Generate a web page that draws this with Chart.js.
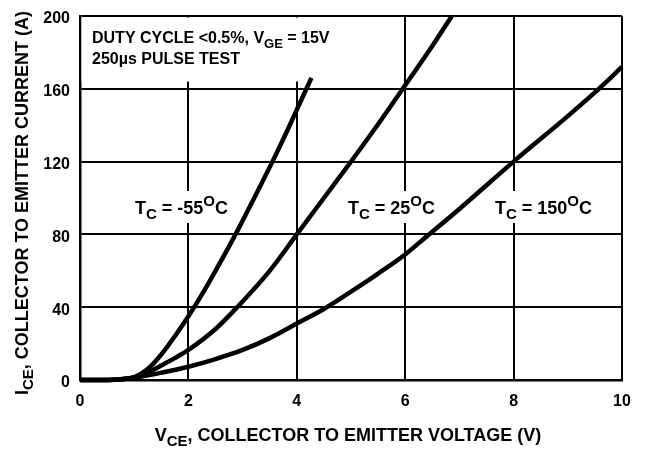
<!DOCTYPE html>
<html>
<head>
<meta charset="utf-8">
<script src="https://cdn.jsdelivr.net/npm/chart.js@4/dist/chart.umd.min.js"></script>
<style>
  html, body { margin: 0; padding: 0; background: #fff; }
  #c { display: block; }
</style>
</head>
<body>
<canvas id="c" width="647" height="450"></canvas>
<script>
// ---- data ----
const xTicks = [0, 2, 4, 6, 8, 10];
const yTicks = [0, 40, 80, 120, 160, 200];

const vM55 = [0, 0.5, 0.8, 1.0, 1.25, 1.5, 1.75, 2.0, 2.25, 2.5, 2.87, 3.0, 3.35, 3.6, 3.87, 4.0, 4.27];
const iM55 = [0, 0, 0.5, 1.5, 6, 14, 24, 35, 47, 60, 80, 87.5, 108, 123, 140, 148.5, 166];

const v25 = [0, 0.5, 0.8, 1.0, 1.25, 1.5, 1.75, 2.0, 2.5, 2.9, 3.5, 4.0, 4.5, 5.0, 5.5, 6.0, 6.5, 6.86];
const i25 = [0, 0, 0.5, 1.5, 4, 8, 12, 16.5, 28, 40, 60, 80, 100, 120, 140.5, 162, 183.5, 200];

const v150 = [0, 0.5, 0.8, 1.0, 1.5, 2.0, 2.5, 3.0, 3.5, 4.0, 4.5, 5.0, 5.5, 6.0, 6.4, 7.0, 8.0, 9.0, 9.5, 10.0];
const i150 = [0, 0, 0.5, 1.2, 4, 7.3, 11.5, 16.5, 23, 31, 39, 48.5, 58.5, 69, 79, 94, 120, 145, 158, 172];

const noteLine1 = [{t: 'DUTY CYCLE <0.5%, V'}, {t: 'GE', sub: true}, {t: ' = 15V'}];
const noteLine2 = [{t: '250µs PULSE TEST'}];
const labelM55 = [{t: 'T'}, {t: 'C', sub: true}, {t: ' = -55'}, {t: 'O', sup: true}, {t: 'C'}];
const label25 = [{t: 'T'}, {t: 'C', sub: true}, {t: ' = 25'}, {t: 'O', sup: true}, {t: 'C'}];
const label150 = [{t: 'T'}, {t: 'C', sub: true}, {t: ' = 150'}, {t: 'O', sup: true}, {t: 'C'}];
const xTitle = [{t: 'V'}, {t: 'CE', sub: true}, {t: ', COLLECTOR TO EMITTER VOLTAGE (V)'}];
const yTitle = [{t: 'I'}, {t: 'CE', sub: true}, {t: ', COLLECTOR TO EMITTER CURRENT (A)'}];

// ---- helpers ----
const FONT = '"Liberation Sans", Arial, Helvetica, sans-serif';
function toPts(xs, ys) { return xs.map((x, k) => ({x: x, y: ys[k]})); }

function segFont(s, size) {
  return 'bold ' + ((s.sub || s.sup) ? Math.round(size * 0.82) : size) + 'px ' + FONT;
}
function richWidth(ctx, segs, size) {
  let w = 0;
  for (const s of segs) { ctx.font = segFont(s, size); w += ctx.measureText(s.t).width; }
  return w;
}
function rich(ctx, segs, x, y, size, align) {
  const w = richWidth(ctx, segs, size);
  let cx = align === 'center' ? x - w / 2 : x;
  ctx.textAlign = 'left';
  ctx.textBaseline = 'alphabetic';
  ctx.fillStyle = '#000';
  for (const s of segs) {
    ctx.font = segFont(s, size);
    const dy = s.sub ? size * 0.3 : (s.sup ? -size * 0.42 : 0);
    ctx.fillText(s.t, cx, y + dy);
    cx += ctx.measureText(s.t).width;
  }
  return w;
}

const annot = {
  id: 'annot',
  beforeDatasetsDraw(chart) {
    const ctx = chart.ctx;
    const a = chart.chartArea;
    ctx.save();
    ctx.fillStyle = '#fff';
    // top note box
    ctx.fillRect(a.left + 1.5, a.top + 1.5, 280, 64);
    // temperature label boxes + text
    const lbls = [[labelM55, 135], [label25, 348], [label150, 495]];
    for (const [segs, x0] of lbls) {
      const w = richWidth(ctx, segs, 18);
      ctx.fillStyle = '#fff';
      ctx.fillRect(x0 - 5, 191, w + 10, 32);
      rich(ctx, segs, x0, 214, 18, 'left');
    }
    rich(ctx, noteLine1, 92, 43, 16, 'left');
    rich(ctx, noteLine2, 92, 64, 16, 'left');
    ctx.restore();
  },
  afterDraw(chart) {
    const ctx = chart.ctx;
    ctx.save();
    rich(ctx, xTitle, 348, 441, 18, 'center');
    ctx.translate(28, 203);
    ctx.rotate(-Math.PI / 2);
    rich(ctx, yTitle, 0, 0, 18, 'center');
    ctx.restore();
  }
};

const lineStyle = {
  borderColor: '#000',
  borderWidth: 4.5,
  pointRadius: 0,
  fill: false,
  cubicInterpolationMode: 'monotone',
  clip: false
};

new Chart(document.getElementById('c'), {
  type: 'line',
  data: {
    datasets: [
      Object.assign({label: 'TC = -55°C', data: toPts(vM55, iM55)}, lineStyle),
      Object.assign({label: 'TC = 25°C', data: toPts(v25, i25)}, lineStyle),
      Object.assign({label: 'TC = 150°C', data: toPts(v150, i150)}, lineStyle)
    ]
  },
  options: {
    responsive: false,
    animation: false,
    devicePixelRatio: 1,
    layout: { padding: { left: 0, top: 16, right: 25, bottom: 0 } },
    plugins: { legend: { display: false }, tooltip: { enabled: false } },
    scales: {
      x: {
        type: 'linear',
        min: xTicks[0], max: xTicks[xTicks.length - 1],
        afterBuildTicks(s) { s.ticks = xTicks.map(v => ({value: v})); },
        afterFit(s) { s.height = 70; s.paddingLeft = 0; s.paddingRight = 0; },
        grid: { color: '#000', lineWidth: 2, drawTicks: false },
        border: { display: true, color: '#000', width: 2.5 },
        ticks: { color: '#000', padding: 12, maxRotation: 0, font: { family: FONT, size: 16, weight: 'bold' } }
      },
      y: {
        type: 'linear',
        min: yTicks[0], max: yTicks[yTicks.length - 1],
        afterBuildTicks(s) { s.ticks = yTicks.map(v => ({value: v})); },
        afterFit(s) { s.width = 80; s.paddingTop = 0; s.paddingBottom = 0; },
        grid: { color: '#000', lineWidth: 2, drawTicks: false },
        border: { display: true, color: '#000', width: 2.5 },
        ticks: { color: '#000', padding: 10, labelOffset: 3, font: { family: FONT, size: 16, weight: 'bold' } }
      }
    }
  },
  plugins: [annot]
});
</script>
</body>
</html>
